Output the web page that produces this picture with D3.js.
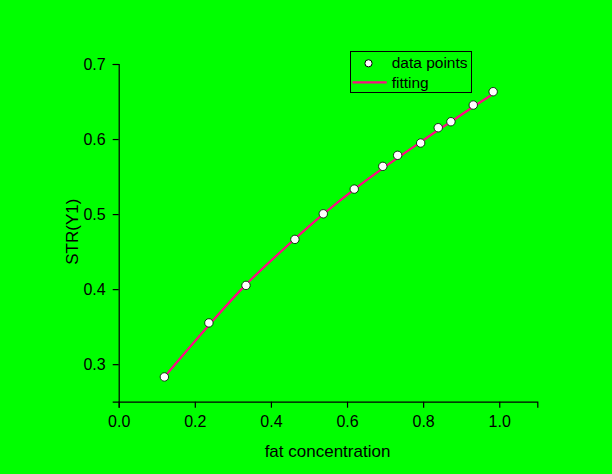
<!DOCTYPE html>
<html>
<head>
<meta charset="utf-8">
<script src="https://cdn.jsdelivr.net/npm/d3@7"></script>
<style>
  html, body { margin: 0; padding: 0; background: #00ff00; }
  svg { display: block; font-family: "Liberation Sans", Arial, sans-serif; }
</style>
</head>
<body>
<svg id="chart" width="612" height="474"></svg>
<script>
// measured points
var fatConc = [0.12, 0.237, 0.3345, 0.463, 0.5376, 0.619, 0.694, 0.733, 0.7935, 0.8397, 0.873, 0.9317, 0.984];
var strY1 = [0.283, 0.355, 0.405, 0.4663, 0.5004, 0.5333, 0.5636, 0.5783, 0.5947, 0.6151, 0.6231, 0.6453, 0.6631];
// fitted curve at the same x positions
var fitY = [0.283, 0.352, 0.406, 0.467, 0.500, 0.533, 0.561, 0.575, 0.596, 0.612, 0.623, 0.643, 0.660];

var xTicks = [0.0, 0.2, 0.4, 0.6, 0.8, 1.0];
var yTicks = [0.3, 0.4, 0.5, 0.6, 0.7];

var svg = d3.select('#chart');
var FONT = 'Liberation Sans, Arial, sans-serif';
var PINK = '#ff0a84';

var x = d3.scaleLinear().domain([0, 1.1]).range([118.7, 537.3]);
var y = d3.scaleLinear().domain([0.25, 0.7]).range([401.7, 64]);

/* axes: major ticks plus minor ones in between */
function drawAxis(axisGen, minorGen, transform) {
    var g = svg.append('g').attr('transform', transform);
    g.call(minorGen);
    g.call(axisGen);
    g.attr('font-size', 16).attr('font-family', FONT);
    g.selectAll('.domain').attr('stroke', '#000').attr('stroke-width', 1.2);
    g.selectAll('line').attr('stroke', '#000').attr('stroke-width', 1.2);
    g.selectAll('text').attr('fill', '#000');
    return g;
}

var xAxis = d3.axisBottom(x).tickValues(xTicks).tickSize(6).tickPadding(7.5)
    .tickFormat(d3.format('.1f'));
var xMinor = d3.axisBottom(x).tickValues([0.1, 0.3, 0.5, 0.7, 0.9, 1.1]).tickSize(3).tickFormat('');
drawAxis(xAxis, xMinor, 'translate(0,' + y(0.25) + ')');

var yAxis = d3.axisLeft(y).tickValues(yTicks).tickSize(6).tickPadding(7)
    .tickFormat(d3.format('.1f'));
var yMinor = d3.axisLeft(y).tickValues([0.25, 0.35, 0.45, 0.55, 0.65]).tickSize(3).tickFormat('');
drawAxis(yAxis, yMinor, 'translate(' + x(0) + ',0)');

// axis titles
svg.append('text')
    .attr('x', 327.5).attr('y', 456.5)
    .attr('text-anchor', 'middle')
    .attr('font-size', 17)
    .text('fat concentration');

svg.append('text')
    .attr('transform', 'translate(77.5,231.7) rotate(-90)')
    .attr('text-anchor', 'middle')
    .attr('font-size', 17)
    .text('STR(Y1)');

// fitting line
var fitData = fatConc.map(function(d, i) { return [d, fitY[i]]; });
svg.append('path')
    .datum(fitData)
    .attr('fill', 'none')
    .attr('stroke', PINK)
    .attr('stroke-width', 2.2)
    .attr('d', d3.line()
        .x(function(d) { return x(d[0]); })
        .y(function(d) { return y(d[1]); })
        .curve(d3.curveCatmullRom));

// data points
svg.selectAll('circle.pt')
    .data(fatConc)
    .enter().append('circle')
    .attr('class', 'pt')
    .attr('cx', function(d) { return x(d); })
    .attr('cy', function(d, i) { return y(strY1[i]); })
    .attr('r', 4.2)
    .attr('fill', '#fff')
    .attr('stroke', '#000')
    .attr('stroke-width', 0.8);

/* legend */
var leg = svg.append('g');
leg.append('rect')
    .attr('x', 350.5).attr('y', 51.5)
    .attr('width', 121).attr('height', 41)
    .attr('fill', 'none')
    .attr('stroke', '#000')
    .attr('stroke-width', 1);
leg.append('circle')
    .attr('cx', 368.5).attr('cy', 63.3).attr('r', 3.6)
    .attr('fill', '#fff').attr('stroke', '#000').attr('stroke-width', 1);
leg.append('text')
    .attr('x', 391.7).attr('y', 67.8)
    .attr('font-size', 15.5)
    .text('data points');
leg.append('line')
    .attr('x1', 352.5).attr('x2', 386.7)
    .attr('y1', 82.3).attr('y2', 82.3)
    .attr('stroke', PINK).attr('stroke-width', 2.2);
leg.append('text')
    .attr('x', 391.7).attr('y', 87.5)
    .attr('font-size', 15.5)
    .text('fitting');
</script>
</body>
</html>
